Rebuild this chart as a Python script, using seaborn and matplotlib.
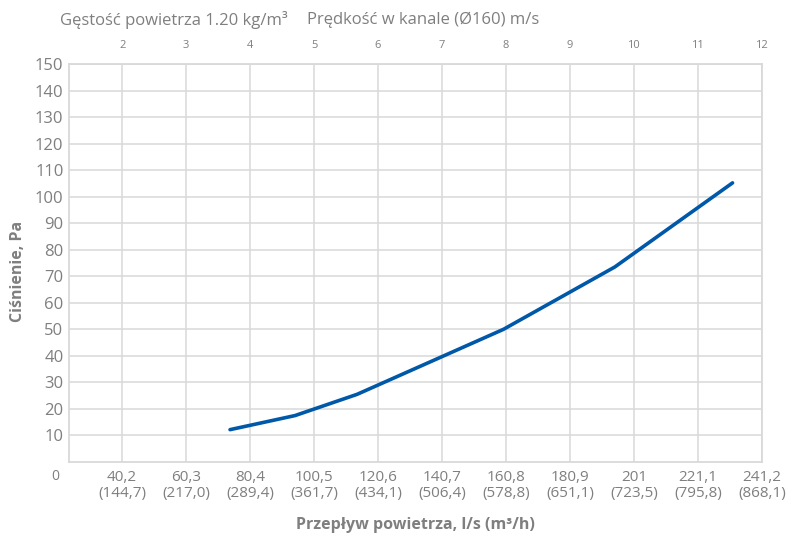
import pandas as pd
import matplotlib
matplotlib.use("Agg")
import matplotlib.pyplot as plt
import seaborn as sns

# values
flow_ls = [74.1, 94.5, 114.0, 160.0, 195.0, 232.0]
pressure_pa = [12.2, 17.5, 25.5, 50.0, 73.5, 105.2]

flow_ticks = [40.2, 60.3, 80.4, 100.5, 120.6, 140.7, 160.8, 180.9, 201, 221.1, 241.2]
flow_labels = ["40,2", "60,3", "80,4", "100,5", "120,6", "140,7", "160,8", "180,9", "201", "221,1", "241,2"]
flow_m3h_labels = ["(144,7)", "(217,0)", "(289,4)", "(361,7)", "(434,1)", "(506,4)", "(578,8)",
                   "(651,1)", "(723,5)", "(795,8)", "(868,1)"]
speed_labels = ["2", "3", "4", "5", "6", "7", "8", "9", "10", "11", "12"]
pressure_ticks = list(range(10, 160, 10))

text_col = "#7f7f7f"
grid_col = "#d9d9d9"
line_col = "#0058a8"

sns.set_style("white")
plt.rcParams["font.family"] = ["Open Sans", "DejaVu Sans"]

df = pd.DataFrame({"flow": flow_ls, "pressure": pressure_pa})

fig = plt.figure(figsize=(7.87, 5.35), dpi=100)
ax = fig.add_axes([0.0877, 0.1364, 0.968 - 0.0877, 0.8804 - 0.1364])

sns.lineplot(data=df, x="flow", y="pressure", color=line_col, linewidth=2.6, ax=ax)

ax.set_xlim(23.5, 241.2)
ax.set_ylim(0, 150)
ax.set_yticks(pressure_ticks)
ax.set_yticklabels([str(v) for v in pressure_ticks])
ax.set_xticks(flow_ticks)
ax.set_xticklabels([a + "\n" + b for a, b in zip(flow_labels, flow_m3h_labels)],
                   linespacing=1.05)
ax.grid(True, color=grid_col, linewidth=1.1)
ax.set_axisbelow(True)
for s in ax.spines.values():
    s.set_color(grid_col)
    s.set_linewidth(1.3)

ax.tick_params(axis="y", length=0, pad=4, labelsize=12, labelcolor=text_col)
ax.tick_params(axis="x", length=0, pad=6, labelsize=11, labelcolor=text_col)

ax.set_xlabel("Przepływ powietrza, l/s (m³/h)", fontsize=11.5, fontweight="bold",
              color=text_col, va="center")
ax.xaxis.set_label_coords(0.5, -0.157)
ax.set_ylabel("Ciśnienie, Pa", fontsize=11.5, fontweight="bold", color=text_col, va="center")
ax.yaxis.set_label_coords(-0.074, 0.48)

top = ax.secondary_xaxis("top")
top.set_xticks(flow_ticks)
top.set_xticklabels(speed_labels)
top.tick_params(length=0, pad=9, labelsize=8, labelcolor=text_col)
top.spines["top"].set_visible(False)

fig.text(55 / 787, 1 - 477 / 535, "0", ha="center", va="center", fontsize=10, color=text_col)
fig.text(60 / 787, 1 - 20 / 535, "Gęstość powietrza 1.20 kg/m³", ha="left", va="center",
         fontsize=12, color=text_col)
fig.text(307 / 787, 1 - 20 / 535, "Prędkość w kanale (Ø160) m/s", ha="left", va="center",
         fontsize=12, color=text_col)

fig.savefig("out.png", dpi=100)
